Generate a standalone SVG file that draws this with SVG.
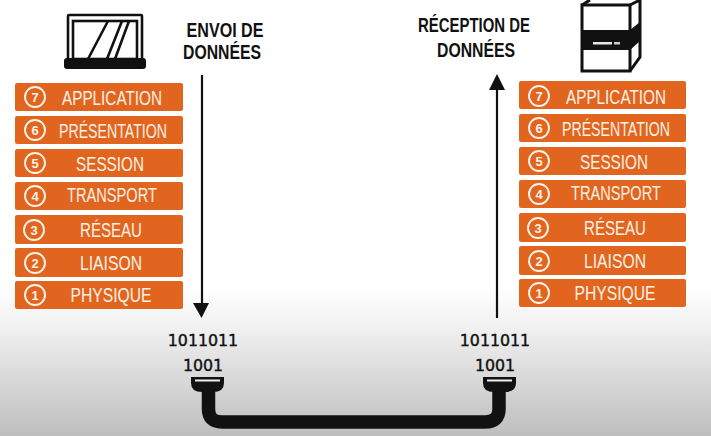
<svg xmlns="http://www.w3.org/2000/svg" width="711" height="436" viewBox="0 0 711 436">
<style>
.bar{fill:#e2651f}
.num{fill:none;stroke:#fdf3ea;stroke-width:1.9}
.d{font:700 13px "Liberation Sans",sans-serif;fill:#fdf3ea;text-anchor:middle}
.l{font:400 20px "Liberation Sans",sans-serif;fill:#fdf1e6;text-anchor:middle}
.h{font:700 20px "Liberation Sans",sans-serif;fill:#111;text-anchor:middle}
.b{font:400 15.8px "DejaVu Sans",sans-serif;fill:#111;text-anchor:middle;stroke:#111;stroke-width:.4}
.ink{fill:none;stroke:#111;stroke-width:2.6}
</style>
<defs>
<linearGradient id="bg" x1="0" y1="0" x2="0" y2="1"><stop offset="0" stop-color="#fff"/><stop offset=".66" stop-color="#fff"/><stop offset=".76" stop-color="#efefef"/><stop offset="1" stop-color="#bebebe"/></linearGradient>
</defs>
<rect width="711" height="436" fill="url(#bg)"/>
<g id="laptop">
<rect class="ink" x="68" y="15" width="74" height="45" rx="1"/>
<rect class="ink" x="73" y="21" width="64" height="38"/>
<path class="ink" d="M88 59 108 21M107 59 122 21M115 59 129 21"/>
<rect x="64" y="58" width="82" height="11" rx="3" fill="#111"/>
</g>
<g id="server">
<path d="M582 5H630V71H582Z" fill="#fff" stroke="#111" stroke-width="3"/>
<path d="M582 5 590 0M630 5 640 0V57L630 71" fill="none" stroke="#111" stroke-width="3"/>
<path d="M581 30H630L640 22V41L630 50H581Z" fill="#111"/>
<rect x="593" y="42" width="19" height="2.500" fill="#e6e6e6"/>
<rect x="614" y="42" width="6" height="2.500" fill="#ccc"/>
</g>
<g id="envoi"><text class="h" x="225" y="37" textLength="77" lengthAdjust="spacingAndGlyphs">ENVOI DE</text><text class="h" x="222" y="59" textLength="78" lengthAdjust="spacingAndGlyphs">DONNÉES</text></g>
<g id="reception"><text class="h" x="474" y="32" textLength="112" lengthAdjust="spacingAndGlyphs">RÉCEPTION DE</text><text class="h" x="476" y="57" textLength="78" lengthAdjust="spacingAndGlyphs">DONNÉES</text></g>
<g id="stack-left">
<g id="l7"><rect class="bar" x="15" y="83" width="168" height="28" rx="2"/><circle class="num" cx="35" cy="97" r="10"/><text class="d" x="35" y="102">7</text><text class="l" x="112" y="105" textLength="100" lengthAdjust="spacingAndGlyphs">APPLICATION</text></g>
<g id="l6"><rect class="bar" x="15" y="116" width="168" height="28" rx="2"/><circle class="num" cx="35" cy="130" r="10"/><text class="d" x="35" y="135">6</text><text class="l" x="113" y="138" textLength="108" lengthAdjust="spacingAndGlyphs">PRÉSENTATION</text></g>
<g id="l5"><rect class="bar" x="15" y="149" width="168" height="28" rx="2"/><circle class="num" cx="35" cy="163" r="10"/><text class="d" x="35" y="168">5</text><text class="l" x="110" y="171" textLength="68" lengthAdjust="spacingAndGlyphs">SESSION</text></g>
<g id="l4"><rect class="bar" x="15" y="182" width="168" height="28" rx="2"/><circle class="num" cx="35" cy="196" r="10"/><text class="d" x="35" y="201">4</text><text class="l" x="112" y="202" textLength="90" lengthAdjust="spacingAndGlyphs">TRANSPORT</text></g>
<g id="l3"><rect class="bar" x="15" y="215" width="168" height="29" rx="2"/><circle class="num" cx="34" cy="230" r="10"/><text class="d" x="34" y="235">3</text><text class="l" x="111" y="237" textLength="62" lengthAdjust="spacingAndGlyphs">RÉSEAU</text></g>
<g id="l2"><rect class="bar" x="15" y="248" width="168" height="29" rx="2"/><circle class="num" cx="35" cy="263" r="10"/><text class="d" x="35" y="268">2</text><text class="l" x="111" y="270" textLength="62" lengthAdjust="spacingAndGlyphs">LIAISON</text></g>
<g id="l1"><rect class="bar" x="15" y="281" width="168" height="28" rx="2"/><circle class="num" cx="35" cy="295" r="10"/><text class="d" x="35" y="300">1</text><text class="l" x="111" y="302" textLength="81" lengthAdjust="spacingAndGlyphs">PHYSIQUE</text></g>
</g>
<g id="stack-right">
<g id="r7"><rect class="bar" x="519" y="81" width="167" height="28" rx="2"/><circle class="num" cx="539" cy="96" r="10"/><text class="d" x="539" y="101">7</text><text class="l" x="616" y="104" textLength="100" lengthAdjust="spacingAndGlyphs">APPLICATION</text></g>
<g id="r6"><rect class="bar" x="519" y="114" width="167" height="28" rx="2"/><circle class="num" cx="539" cy="128" r="10"/><text class="d" x="539" y="133">6</text><text class="l" x="616" y="136" textLength="108" lengthAdjust="spacingAndGlyphs">PRÉSENTATION</text></g>
<g id="r5"><rect class="bar" x="519" y="147" width="167" height="28" rx="2"/><circle class="num" cx="539" cy="161" r="10"/><text class="d" x="539" y="166">5</text><text class="l" x="614" y="169" textLength="68" lengthAdjust="spacingAndGlyphs">SESSION</text></g>
<g id="r4"><rect class="bar" x="519" y="180" width="167" height="28" rx="2"/><circle class="num" cx="539" cy="194" r="10"/><text class="d" x="539" y="199">4</text><text class="l" x="616" y="200" textLength="90" lengthAdjust="spacingAndGlyphs">TRANSPORT</text></g>
<g id="r3"><rect class="bar" x="519" y="213" width="167" height="29" rx="2"/><circle class="num" cx="538" cy="228" r="10"/><text class="d" x="538" y="233">3</text><text class="l" x="615" y="235" textLength="62" lengthAdjust="spacingAndGlyphs">RÉSEAU</text></g>
<g id="r2"><rect class="bar" x="519" y="246" width="167" height="29" rx="2"/><circle class="num" cx="539" cy="261" r="10"/><text class="d" x="539" y="266">2</text><text class="l" x="615" y="268" textLength="62" lengthAdjust="spacingAndGlyphs">LIAISON</text></g>
<g id="r1"><rect class="bar" x="519" y="279" width="167" height="28" rx="2"/><circle class="num" cx="539" cy="293" r="10"/><text class="d" x="539" y="298">1</text><text class="l" x="615" y="300" textLength="81" lengthAdjust="spacingAndGlyphs">PHYSIQUE</text></g>
</g>
<g id="bits-left"><text class="b" x="203" y="346">1011011</text><text class="b" x="203" y="371">1001</text></g>
<g id="bits-right"><text class="b" x="495" y="346">1011011</text><text class="b" x="495" y="371">1001</text></g>
<g id="connectors">
<path d="M202 75V304" stroke="#111" stroke-width="2.200" fill="none"/>
<path d="M193 303H209L201.500 318Z" fill="#111"/>
<path d="M497 318V89" stroke="#111" stroke-width="2.200" fill="none"/>
<path d="M489 90H505L497 74Z" fill="#111"/>
<path d="M208.500 388V409Q208.500 422 222 422H485Q499 422 499 409V388" fill="none" stroke="#111" stroke-width="13.500"/>
<path d="M191 377H224V383Q224 392 213 392H202Q191 392 191 383Z" fill="#111"/>
<path d="M483 377H516V383Q516 392 505 392H494Q483 392 483 383Z" fill="#111"/>
<rect x="195" y="379.500" width="25" height="2" fill="#eee"/>
<rect x="487" y="379.500" width="25" height="2" fill="#eee"/>
</g>
</svg>
